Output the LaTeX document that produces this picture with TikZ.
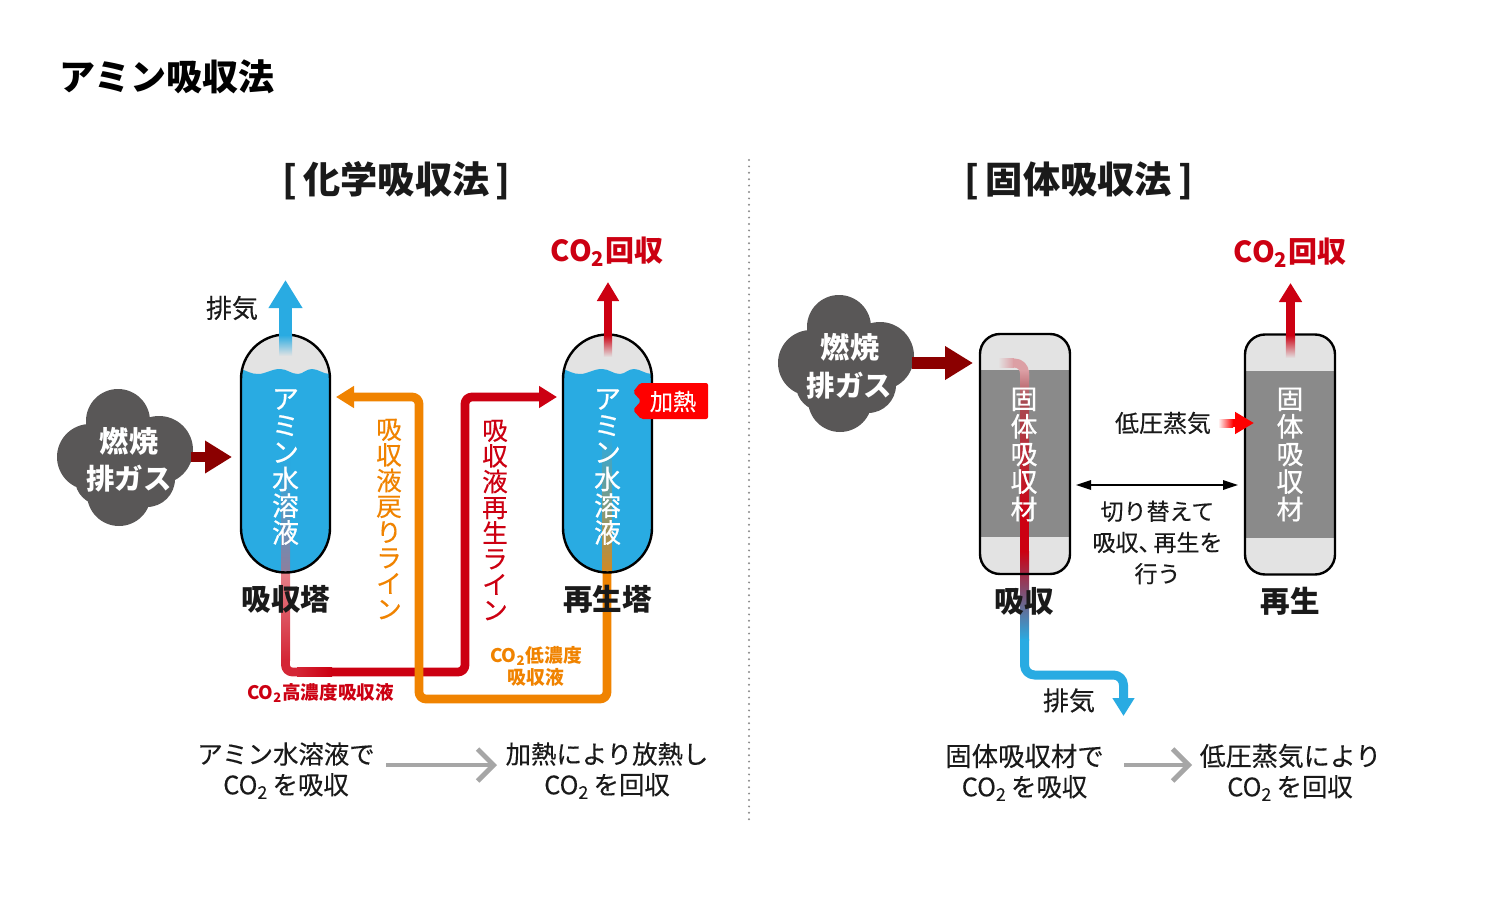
\documentclass[tikz,border=0pt]{standalone}
\usepackage{fontspec}
\setmainfont{Noto Sans CJK JP}[FakeBold=0.25,BoldFeatures={FakeBold=0}]
\newfontfamily\stackfont{Noto Sans CJK JP}[FakeBold=0.7]
\usetikzlibrary{arrows.meta}
\definecolor{cblue}{HTML}{29ABE2}
\definecolor{cred}{HTML}{CC0012}
\definecolor{corange}{HTML}{F08300}
\definecolor{cdark}{HTML}{8B0000}
\definecolor{ccloud}{HTML}{595757}
\definecolor{cdome}{HTML}{E3E3E3}
\definecolor{cband}{HTML}{8A8A8A}
\definecolor{ctext}{HTML}{1A1A1A}
\definecolor{carrow}{HTML}{A6A6A6}
\definecolor{cdiv}{HTML}{8C8C8C}
\newcommand\cotwo{CO\textsubscript{2}}
\newcommand\fs[2]{\fontsize{#1}{#2}\selectfont}
\tikzset{
  x=0.5pt,y=-0.5pt,
  lbl/.style={inner sep=0,align=center,text=ctext,font=\fs{12.7}{15}},
  lblb/.style={inner sep=0,align=center,text=ctext,font=\fs{14.8}{17}\bfseries},
  ttl/.style={inner sep=0,text=ctext,font=\fs{18.6}{22}\bfseries},
  vert/.style={inner sep=0,align=center,text=white,font=\stackfont\fs{13.4}{13.4}},
  drum/.style={insert path={(0,379) arc[start angle=180,end angle=360,radius=44.5] -- (89,528) arc[start angle=0,end angle=180,radius=44.5] -- cycle}},
  bed/.style={insert path={[rounded corners=10pt] (0,334) rectangle (90,574)}},
  pipe/.style={line width=#1,line join=round},
  pipe/.default=4.4pt,
  puff/.style={fill=ccloud},
  grayarrow/.style={draw=carrow,line width=2.4pt,-{Straight Barb[length=8pt,width=16pt]}},
}
\newcommand\cloudshape{%
  \fill[puff] (839,327) circle[radius=32] (811,363) circle[radius=33] (880,356) circle[radius=34]
    (840,400) circle[radius=32] (868,385) circle[radius=28] (822,385) circle[radius=26] (845,362) circle[radius=35];}
\begin{document}
\begin{tikzpicture}
\useasboundingbox (0,0) rectangle (1500,899);
\fill[white] (0,0) rectangle (1500,899);

% title
\node[inner sep=0,anchor=west,text=black,font=\fs{18}{20}\bfseries] (title) at (59,77) {アミン吸収法};
\node[ttl] (h1) at (396.5,181) {{[}\,化学吸収法\,{]}};
\node[ttl] (h2) at (1079,181) {{[}\,固体吸収法\,{]}};
\coordinate (divT) at (749,160);
\coordinate (divB) at (749,822);
\draw[cdiv,line width=1.1pt,line cap=round,dash pattern=on 0pt off 3.2pt] (divT) -- (divB);

% ---------- left panel: towers
\begin{scope}[shift={(241,0)}]
  \fill[cdome,drum];
  \begin{scope}
    \clip[drum];
    \fill[cblue] (0,369) .. controls (6,371) and (10,374) .. (17,374) .. controls (25,374) and (30,369) .. (39,369)
      .. controls (46,369) and (50,374) .. (57,374) .. controls (62,374) and (65,369) .. (71,369)
      .. controls (77,369) and (82,374) .. (89,374) -- (89,600) -- (0,600) -- cycle;
  \end{scope}
\end{scope}
\begin{scope}[shift={(563,0)}]
  \fill[cdome,drum];
  \begin{scope}
    \clip[drum];
    \fill[cblue] (0,369) .. controls (6,371) and (10,374) .. (17,374) .. controls (25,374) and (30,369) .. (39,369)
      .. controls (46,369) and (50,374) .. (57,374) .. controls (62,374) and (65,369) .. (71,369)
      .. controls (77,369) and (82,374) .. (89,374) -- (89,600) -- (0,600) -- cycle;
  \end{scope}
\end{scope}

% red line (rich solution)
\coordinate (r2) at (285.5,672);
\coordinate (r3) at (465,672);
\coordinate (r4) at (465,397);
\coordinate (rTip) at (557,397);
\shade[top color=cblue,bottom color=cblue!55!cred!80!white] (281,457) rectangle (290,573);
\shade[top color=cred!50!white,bottom color=cred!85!white] (281,573) rectangle (290,660);
\draw[cred!85!white,pipe,rounded corners=3.5pt] (285.5,659) -- (r2) -- (298,672);
\shade[left color=cred!85!white,right color=cred] (297,667.6) rectangle (332,676.4);
\draw[cred,pipe,rounded corners=3.5pt,-{Triangle[length=9pt,width=10.5pt]}] (331,672) -- (r3) -- (r4) -- (rTip);

% orange line (lean solution)
\coordinate (o2) at (607,699);
\coordinate (o3) at (419,699);
\coordinate (o4) at (419,397);
\coordinate (oTip) at (336,397);
\shade[top color=cblue,bottom color=corange!85!cblue] (602.6,436) rectangle (611.4,573);
\draw[corange,pipe,rounded corners=3.5pt,-{Triangle[length=9pt,width=10.5pt]}] (607,572) -- (o2) -- (o3) -- (o4) -- (oTip);

% tower outlines
\draw[black,line width=1.2pt,shift={(241,0)},drum];
\draw[black,line width=1.2pt,shift={(563,0)},drum];

% exhaust / CO2 arrows on the towers
\coordinate (bTip) at (285.5,280);
\coordinate (bFoot) at (285.5,336);
\draw[cblue,line width=6.5pt,-{Triangle[length=14pt,width=16pt]}] (bFoot) -- (bTip);
\shade[top color=cblue,bottom color=cdome] (279,335) rectangle (292,356);
\coordinate (cTip) at (608,282);
\coordinate (cFoot) at (608,336);
\draw[cred,line width=4.2pt,-{Triangle[length=9.5pt,width=10.5pt]}] (cFoot) -- (cTip);
\shade[top color=cred,bottom color=cdome] (603.8,335) rectangle (612.2,357);

% left cloud
\begin{scope}[shift={(-721,94)}]\cloudshape\end{scope}
\coordinate (g1s) at (191,457);
\coordinate (g1e) at (232,457);
\draw[cdark,line width=5pt,-{Triangle[length=13.5pt,width=15.5pt]}] (g1s) -- (g1e);
\node[inner sep=0,text=white,font=\fs{14.6}{17}\bfseries] (c1a) at (129,441) {燃焼};
\node[inner sep=0,text=white,font=\fs{14.2}{17}\bfseries] (c1b) at (129,479) {排ガス};

% left labels
\node[lbl,font=\fs{13}{15}] (ex1) at (232,308) {排気};
\node[inner sep=0,text=cred,font=\fs{14.5}{18}\bfseries] (co1) at (607,252) {\cotwo 回収};
\node[vert] (a1) at (285.5,467) {ア\\ミ\\ン\\水\\溶\\液};
\node[vert] (a2) at (607.5,467) {ア\\ミ\\ン\\水\\溶\\液};
\node[inner sep=0,align=center,text=corange,font=\fs{12.8}{12.85}] (vo) at (389,519) {吸\\収\\液\\戻\\り\\ラ\\イ\\ン};
\node[inner sep=0,align=center,text=cred,font=\fs{12.8}{12.85}] (vr) at (495,520) {吸\\収\\液\\再\\生\\ラ\\イ\\ン};
\node[lblb] (n1) at (286,599.5) {吸収塔};
\node[lblb] (n2) at (607.5,599.5) {再生塔};
\node[inner sep=0,align=center,text=corange,font=\fs{9.4}{11}\bfseries] (lo) at (536,666) {\cotwo 低濃度\\吸収液};
\node[inner sep=0,text=cred,font=\fs{9.3}{11}\bfseries] (hi) at (320.5,693) {\cotwo 高濃度吸収液};

% heat badge
\fill[red,rounded corners=1pt] (640,383) -- (708,383) -- (708,419) -- (641,419) -- (633,410) -- (641,401) -- (633,392) -- cycle;
\node[inner sep=0,text=white,font=\fs{11.6}{14}] (heat) at (673,401.5) {加熱};

% left captions
\node[lbl] (b1a) at (286,754) {アミン水溶液で};
\node[lbl] (b1b) at (286,786) {\cotwo\,を吸収};
\node[lbl] (b2a) at (607,754) {加熱により放熱し};
\node[lbl] (b2b) at (607,786) {\cotwo\,を回収};
\draw[grayarrow] (b1a.east |- 0,765) ++(11,0) coordinate (ga1) -- (497,765);

% ---------- right panel: adsorbers
\begin{scope}[shift={(980,0)}]
  \fill[cdome,bed];
  \fill[cband] (0,370) rectangle (90,537);
\end{scope}
\begin{scope}[shift={(1245,0.5)}]
  \fill[cdome,bed];
  \fill[cband] (0,370.5) rectangle (90,537.5);
\end{scope}

% flow through the left adsorber
\coordinate (p2) at (1024.5,363);
\coordinate (p5) at (1024.5,675);
\coordinate (p6) at (1123.5,675);
\coordinate (pTip) at (1123.5,716);
\shade[left color=cdome,right color=cred!30!cdome] (998,358.5) rectangle (1014,367.5);
\draw[cred!30!cdome,pipe=4.5pt,rounded corners=5pt] (1013,363) -- (p2) -- (1024.5,380);
\shade[top color=cred!30!cdome,bottom color=cband!55!cred] (1020,370) rectangle (1029,400);
\shade[top color=cband!55!cred,bottom color=cred] (1020,399) rectangle (1029,520);
\fill[cred] (1020,519) rectangle (1029,552);
\shade[top color=cred,middle color=cred!45!cblue!80!gray,bottom color=cblue] (1020,551) rectangle (1029,640);
\draw[cblue,pipe=4.5pt,rounded corners=5pt,-{Triangle[length=9pt,width=10.5pt]}] (1024.5,639) -- (p5) -- (p6) -- (pTip);

% outlines
\draw[black,line width=1.2pt,shift={(980,0)},bed];
\draw[black,line width=1.2pt,shift={(1245,0.5)},bed];

% right CO2 arrow
\coordinate (dTip) at (1290.5,283);
\coordinate (dFoot) at (1290.5,336);
\draw[cred,line width=4.6pt,-{Triangle[length=9.5pt,width=11pt]}] (dFoot) -- (dTip);
\shade[top color=cred,bottom color=cdome] (1285.9,335) rectangle (1295.1,358);

% right cloud
\cloudshape
\coordinate (g2s) at (912,363);
\coordinate (g2e) at (973,363);
\draw[cdark,line width=6.4pt,-{Triangle[length=14pt,width=16pt]}] (g2s) -- (g2e);
\node[inner sep=0,text=white,font=\fs{14.6}{17}\bfseries] (c2a) at (850,347.5) {燃焼};
\node[inner sep=0,text=white,font=\fs{14.2}{17}\bfseries] (c2b) at (849.5,386) {排ガス};

% steam arrow
\coordinate (sS) at (1232,423);
\coordinate (sE) at (1254,423);
\draw[red,line width=4pt,-{Triangle[length=9.5pt,width=10.5pt]}] (sS) -- (sE);
\shade[left color=white,right color=red] (1218,419) rectangle (1233,427);

% switching arrow
\coordinate (swL) at (1076,485);
\coordinate (swR) at (1238,485);
\draw[black,line width=0.7pt,{Triangle[length=7.5pt,width=4.8pt]}-{Triangle[length=7.5pt,width=4.8pt]}] (swL) -- (swR);

% right labels
\node[inner sep=0,text=cred,font=\fs{14.5}{18}\bfseries] (co2) at (1290,253) {\cotwo 回収};
\node[vert,font=\stackfont\fs{13.4}{13.8}] (s1) at (1024,454.5) {固\\体\\吸\\収\\材};
\node[vert,font=\stackfont\fs{13.4}{13.8}] (s2) at (1290,454.5) {固\\体\\吸\\収\\材};
\node[lbl,font=\fs{12}{15}] (lp) at (1163,423) {低圧蒸気};
\node[lbl,font=\fs{11.5}{15.6}] (sw) at (1157.5,542.5) {切り替えて\\吸収、\kern-0.35em 再生を\\行う};
\node[lblb] (n3) at (1024.5,601) {吸収};
\node[lblb] (n4) at (1290,601) {再生};
\node[lbl,font=\fs{13}{15}] (ex2) at (1069,700.5) {排気};

% right captions
\node[lbl,font=\fs{13.2}{15}] (b3a) at (1024.5,756) {固体吸収材で};
\node[lbl] (b3b) at (1024.5,788) {\cotwo\,を吸収};
\node[lbl,font=\fs{13}{15}] (b4a) at (1290.5,756) {低圧蒸気により};
\node[lbl] (b4b) at (1290,788) {\cotwo\,を回収};
\coordinate (ga2s) at (1124,765);
\coordinate (ga2e) at (1192,765);
\draw[grayarrow] (ga2s) -- (ga2e);
\end{tikzpicture}
\end{document}
